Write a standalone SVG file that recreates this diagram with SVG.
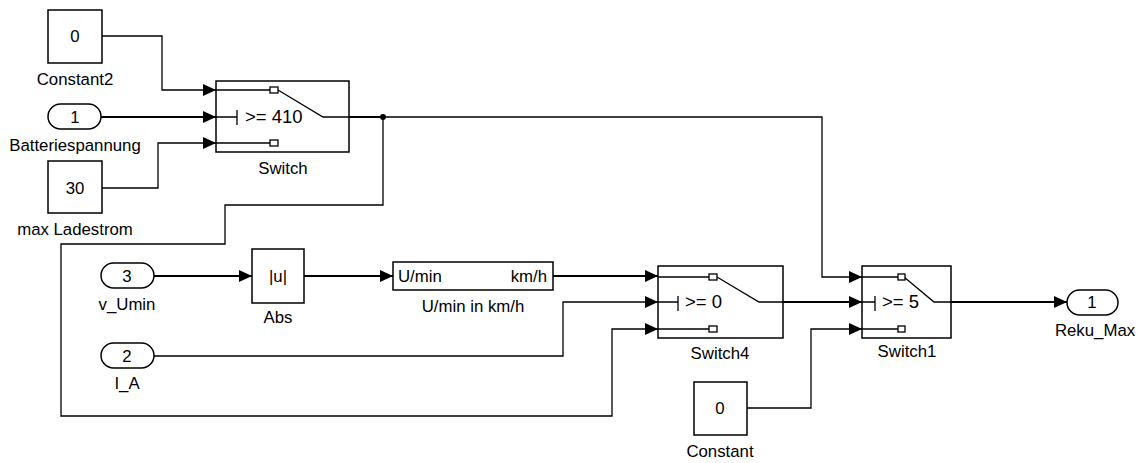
<svg xmlns="http://www.w3.org/2000/svg" width="1146" height="463" viewBox="0 0 1146 463">
<style>
text{font-family:"Liberation Sans",Arial,sans-serif;font-size:16.8px;fill:#000}
.c{text-anchor:middle}
.blk{fill:#fff;stroke:#000;stroke-width:1.5}
.port{fill:#fff;stroke:#000;stroke-width:1.5}
.ln{fill:none;stroke:#000;stroke-width:1.3}
.th{fill:none;stroke:#000;stroke-width:2}
.sq{fill:#fff;stroke:#000;stroke-width:1.3}
.cond{font-size:18.5px}
</style>
<defs>
<marker id="ar" markerUnits="userSpaceOnUse" markerWidth="13" markerHeight="12" refX="13" refY="6" orient="auto">
<path d="M0,0 L13,6 L0,12 z" fill="#000"/>
</marker>
</defs>
<rect width="1146" height="463" fill="#fff"/>

<g id="connectors">
<path class="ln" d="M102,36 H162 V90 H216" marker-end="url(#ar)"/>
<path class="th" d="M101,117 H216" marker-end="url(#ar)"/>
<path class="ln" d="M102,188 H158 V143 H216" marker-end="url(#ar)"/>
<path class="th" d="M349,117 H383"/>
<path class="ln" d="M383,117 H822 V277 H862" marker-end="url(#ar)"/>
<path class="ln" d="M383,117 V205 H225 V244 H61 V416 H612 V329 H658" marker-end="url(#ar)"/>
<circle cx="383" cy="117" r="3" fill="#000"/>
<path class="th" d="M154,276 H252" marker-end="url(#ar)"/>
<path class="th" d="M304,276 H393" marker-end="url(#ar)"/>
<path class="th" d="M553,276 H658" marker-end="url(#ar)"/>
<path class="ln" d="M154,356 H563 V302 H658" marker-end="url(#ar)"/>
<path class="th" d="M783,302 H862" marker-end="url(#ar)"/>
<path class="ln" d="M747,408 H811 V329 H862" marker-end="url(#ar)"/>
<path class="th" d="M951,302 H1067" marker-end="url(#ar)"/>
</g>

<g id="Constant2">
<rect class="blk" x="48" y="10" width="54" height="53"/>
<text class="c" x="75" y="42">0</text>
<text class="c" x="75" y="85">Constant2</text>
</g>

<g id="Batteriespannung">
<rect class="port" x="48" y="104" width="53" height="25" rx="12.5"/>
<text class="c" x="75" y="123">1</text>
<text class="c" x="75" y="151">Batteriespannung</text>
</g>

<g id="max_Ladestrom">
<rect class="blk" x="48" y="161" width="54" height="52"/>
<text class="c" x="75" y="194">30</text>
<text class="c" x="75" y="235">max Ladestrom</text>
</g>

<g id="Switch">
<rect class="blk" x="216" y="81" width="133" height="71"/>
<path class="ln" d="M216,90 H270 M216,117 H237 M237,110 V125 M216,143 H270 M278,90 L323,117 H349"/>
<rect class="sq" x="270" y="87" width="8" height="6"/>
<rect class="sq" x="270" y="140" width="8" height="6"/>
<text class="cond" x="245" y="123">&gt;= 410</text>
<text class="c" x="283" y="174">Switch</text>
</g>

<g id="v_Umin">
<rect class="port" x="101" y="263" width="53" height="25" rx="12.5"/>
<text class="c" x="127" y="282">3</text>
<text class="c" x="127" y="310">v_Umin</text>
</g>

<g id="I_A">
<rect class="port" x="101" y="343" width="53" height="25" rx="12.5"/>
<text class="c" x="127" y="362">2</text>
<text class="c" x="127" y="389">I_A</text>
</g>

<g id="Abs">
<rect class="blk" x="252" y="249" width="52" height="54"/>
<text class="c" x="278" y="282">|u|</text>
<text class="c" x="278" y="323">Abs</text>
</g>

<g id="UminKmh">
<rect class="blk" x="393" y="262" width="160" height="28"/>
<text x="398" y="282">U/min</text>
<text x="547" y="282" text-anchor="end">km/h</text>
<text class="c" x="473" y="312">U/min in km/h</text>
</g>

<g id="Switch4">
<rect class="blk" x="658" y="266" width="125" height="72"/>
<path class="ln" d="M658,277 H709 M658,302 H678 M678,296 V311 M658,329 H709 M717,277 L759,302 H783"/>
<rect class="sq" x="709" y="274" width="8" height="6"/>
<rect class="sq" x="709" y="326" width="8" height="6"/>
<text class="cond" x="685" y="308">&gt;= 0</text>
<text class="c" x="720" y="359">Switch4</text>
</g>

<g id="Switch1">
<rect class="blk" x="862" y="266" width="89" height="72"/>
<path class="ln" d="M862,277 H898 M862,302 H875 M875,296 V311 M862,329 H898 M904,277 L934,302 H951"/>
<rect class="sq" x="898" y="274" width="7" height="6"/>
<rect class="sq" x="898" y="326" width="7" height="6"/>
<text class="cond" x="882" y="308">&gt;= 5</text>
<text class="c" x="907" y="357">Switch1</text>
</g>

<g id="Constant">
<rect class="blk" x="694" y="382" width="53" height="53"/>
<text class="c" x="720" y="414">0</text>
<text class="c" x="720" y="457">Constant</text>
</g>

<g id="Reku_Max">
<rect class="port" x="1067" y="290" width="51" height="25" rx="12.5"/>
<text class="c" x="1092" y="308">1</text>
<text class="c" x="1095" y="336">Reku_Max</text>
</g>
</svg>
